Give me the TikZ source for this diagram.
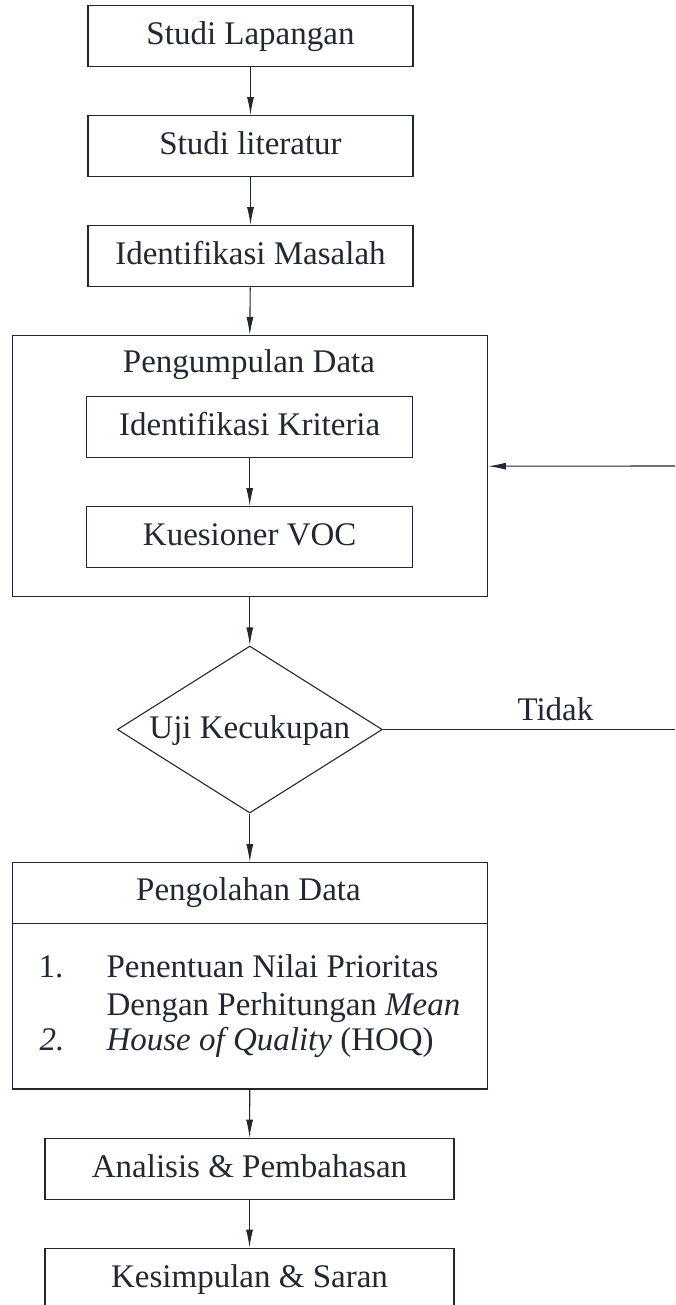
\documentclass[tikz,border=0pt]{standalone}
\usepackage{fontspec}
\setmainfont{Liberation Serif}
\usetikzlibrary{shapes.geometric,arrows.meta}
\definecolor{ink}{RGB}{34,40,49}
\begin{document}
\begin{tikzpicture}[x=1pt,y=-1pt,
  every node/.style={text=ink, font=\fontsize{33}{40}\selectfont},
  stepbox/.style={draw=ink, line width=1.2pt, inner sep=0pt, text height=24pt, text depth=7pt, minimum height=61pt},
  bigbox/.style={draw=ink, line width=1.2pt, inner sep=0pt},
  decide/.style={draw=ink, line width=1.1pt, diamond, aspect=1.587, inner sep=0pt, minimum width=265pt, minimum height=167pt, text height=24pt, text depth=7pt},
  conn/.style={draw=ink, line width=1.1pt, -{Latex[length=18pt,width=7pt]}},
  plain/.style={draw=ink, line width=1.1pt}
]
\useasboundingbox (0,0) rectangle (675,1305);
\clip (0,0) rectangle (675,1305);

\node[stepbox, minimum width=325pt] (sl) at (250.5,36.2) {Studi Lapangan};
\node[stepbox, minimum width=325pt] (slit) at (250.5,146.2) {Studi literatur};
\node[stepbox, minimum width=325pt] (im) at (250.5,256.2) {Identifikasi Masalah};

\node[bigbox, minimum width=475pt, minimum height=261pt] (pd) at (249.8,466.2) {};
\node[anchor=base] (pdt) at (249,372.7) {Pengumpulan Data};
\node[stepbox, minimum width=326pt] (ik) at (249.7,427.2) {Identifikasi Kriteria};
\node[stepbox, minimum width=326pt] (kv) at (249.7,537.2) {Kuesioner VOC};

\node[decide] (uji) at (249.8,729.5) {Uji Kecukupan};
\node[anchor=base west] (tidak) at (514,720) {Tidak};
\coordinate (re1) at (675,729.5);
\coordinate (re2) at (675,466);

\node[bigbox, minimum width=475pt, minimum height=226.3pt] (po) at (249.8,975.9) {};
\node[anchor=base] (pot) at (248.5,900) {Pengolahan Data};
\coordinate (dl) at (12.3,923.3);
\coordinate (dr) at (487.3,923.3);
\node[anchor=base west] (n1) at (35,977.7) {1.};
\node[anchor=base west] (t1) at (103,977.7) {Penentuan Nilai Prioritas};
\node[anchor=base west] (t2) at (103,1015) {Dengan Perhitungan \textit{Mean}};
\node[anchor=base west] (n2) at (36,1050) {\textit{2.}};
\node[anchor=base west] (t3) at (103,1050) {\textit{House of Quality} (HOQ)};

\node[stepbox, minimum width=409pt] (ap) at (249.5,1168.7) {Analisis \& Pembahasan};
\node[stepbox, minimum width=409pt] (ks) at (249.5,1278.8) {Kesimpulan \& Saran};

\draw[plain] (dl) -- (dr);
\draw[conn] (sl) -- (slit);
\draw[conn] (slit) -- (im);
\draw[conn] (im) -- (pd.north);
\draw[conn] (ik) -- (kv);
\draw[conn] (pd.south) -- (uji.north);
\draw[conn] (uji.south) -- (po.north);
\draw[conn] (po.south) -- (ap.north);
\draw[conn] (ap) -- (ks);
\draw[plain] (uji.east) -- (re1);
\draw[conn] (re2) -- (pd.east);
\end{tikzpicture}
\end{document}
